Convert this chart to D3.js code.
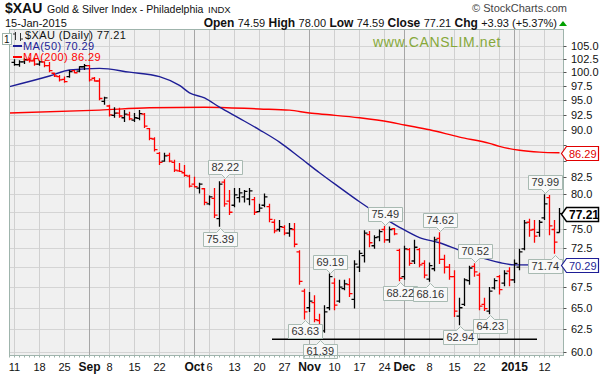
<!DOCTYPE html>
<html>
<head>
<meta charset="utf-8">
<script src="https://cdn.jsdelivr.net/npm/d3@7"></script>
<style>
  body { margin: 0; background: #fff; }
  svg { display: block; font-family: "Liberation Sans", Arial, sans-serif; }
</style>
</head>
<body>
<svg id="chart" width="604" height="377"></svg>
<script>
// ---- data ----
const symbol = "$XAU";
const title = "Gold & Silver Index - Philadelphia";
const exchange = "INDX";
const asOf = "15-Jan-2015";
const quote = [["Open", "74.59"], ["High", "78.00"], ["Low", "74.59"], ["Close", "77.21"], ["Chg", "+3.93 (+5.37%)"]];

// session before the first visible bar (moving averages start there)
const leadIn = "2014-08-08";

// date, open, high, low, close
const bars = [
  ["2014-08-11", 101.8, 102.4, 101.2, 101.4],
  ["2014-08-12", 101.4, 102.2, 101.0, 101.9],
  ["2014-08-13", 101.9, 102.6, 101.5, 102.3],
  ["2014-08-14", 102.3, 102.7, 101.8, 102.1],
  ["2014-08-15", 102.1, 102.6, 101.2, 101.5],
  ["2014-08-18", 101.5, 102.2, 101.2, 101.9],
  ["2014-08-19", 101.9, 102.0, 100.9, 101.2],
  ["2014-08-20", 101.2, 101.9, 100.0, 100.3],
  ["2014-08-21", 99.8, 99.9, 99.1, 99.3],
  ["2014-08-22", 99.2, 99.5, 98.3, 98.6],
  ["2014-08-25", 98.7, 99.2, 98.1, 98.3],
  ["2014-08-26", 99.2, 100.4, 99.0, 100.1],
  ["2014-08-27", 100.3, 100.4, 99.8, 99.9],
  ["2014-08-28", 100.2, 101.1, 100.0, 101.0],
  ["2014-08-29", 101.0, 101.5, 100.4, 101.2],
  ["2014-09-02", 101.2, 101.3, 98.3, 98.6],
  ["2014-09-03", 98.9, 99.1, 98.3, 98.4],
  ["2014-09-04", 98.4, 98.9, 95.0, 95.3],
  ["2014-09-05", 94.8, 95.6, 94.2, 95.4],
  ["2014-09-08", 94.0, 94.2, 92.2, 92.5],
  ["2014-09-09", 92.4, 93.8, 92.0, 92.8],
  ["2014-09-10", 92.8, 93.7, 92.0, 92.3],
  ["2014-09-11", 92.0, 93.3, 91.3, 92.6],
  ["2014-09-12", 92.5, 93.0, 91.6, 91.8],
  ["2014-09-15", 91.6, 92.8, 91.3, 92.0],
  ["2014-09-16", 91.9, 93.3, 91.6, 92.7],
  ["2014-09-17", 92.6, 92.8, 90.3, 90.6],
  ["2014-09-18", 90.2, 90.3, 88.3, 88.6],
  ["2014-09-19", 88.5, 88.8, 86.5, 86.8],
  ["2014-09-22", 86.2, 86.4, 84.4, 84.8],
  ["2014-09-23", 85.0, 86.3, 84.9, 85.8],
  ["2014-09-24", 85.9, 86.3, 84.8, 85.0],
  ["2014-09-25", 84.8, 85.2, 83.3, 83.6],
  ["2014-09-26", 83.5, 84.7, 83.3, 83.4],
  ["2014-09-29", 83.2, 84.4, 82.6, 82.8],
  ["2014-09-30", 82.7, 82.9, 81.0, 81.2],
  ["2014-10-01", 81.5, 82.6, 81.0, 81.1],
  ["2014-10-02", 80.9, 81.7, 80.1, 81.5],
  ["2014-10-03", 80.8, 80.9, 78.4, 78.8],
  ["2014-10-06", 78.6, 79.8, 78.4, 79.6],
  ["2014-10-07", 79.4, 80.9, 76.6, 77.0],
  ["2014-10-08", 76.5, 81.9, 75.39, 81.5],
  ["2014-10-09", 81.8, 82.22, 78.2, 78.6],
  ["2014-10-10", 79.0, 80.6, 77.0, 77.4],
  ["2014-10-13", 78.4, 80.9, 78.1, 79.9],
  ["2014-10-14", 79.5, 80.9, 78.8, 80.2],
  ["2014-10-15", 79.6, 80.6, 78.8, 80.4],
  ["2014-10-16", 79.3, 80.9, 78.4, 80.5],
  ["2014-10-17", 79.2, 79.6, 77.0, 77.4],
  ["2014-10-20", 77.5, 78.6, 77.4, 78.0],
  ["2014-10-21", 78.4, 80.1, 78.1, 79.6],
  ["2014-10-22", 78.2, 78.6, 76.0, 76.4],
  ["2014-10-23", 76.0, 76.4, 74.5, 74.8],
  ["2014-10-24", 75.0, 76.3, 74.7, 75.4],
  ["2014-10-27", 75.3, 75.6, 74.2, 74.5],
  ["2014-10-28", 74.5, 75.9, 74.0, 75.1],
  ["2014-10-29", 75.0, 75.9, 72.6, 73.0],
  ["2014-10-30", 72.0, 72.2, 67.8, 68.2],
  ["2014-10-31", 67.0, 67.3, 63.63, 64.5],
  ["2014-11-03", 65.0, 66.9, 64.5, 65.8],
  ["2014-11-04", 65.6, 66.5, 63.3, 63.6],
  ["2014-11-05", 63.5, 64.3, 61.39, 62.0],
  ["2014-11-06", 62.3, 65.3, 62.1, 64.5],
  ["2014-11-07", 65.0, 69.19, 64.7, 68.8],
  ["2014-11-10", 68.0, 68.6, 64.7, 65.3],
  ["2014-11-11", 65.8, 68.4, 65.6, 67.5],
  ["2014-11-12", 67.3, 68.4, 67.1, 67.9],
  ["2014-11-13", 67.8, 68.6, 66.3, 66.7],
  ["2014-11-14", 66.0, 70.9, 64.9, 70.4],
  ["2014-11-17", 70.0, 72.2, 69.4, 71.8],
  ["2014-11-18", 71.5, 74.9, 70.6, 74.5],
  ["2014-11-19", 74.3, 74.8, 72.6, 73.2],
  ["2014-11-20", 72.8, 74.2, 72.4, 73.9],
  ["2014-11-21", 74.0, 75.0, 73.4, 74.7],
  ["2014-11-24", 75.0, 75.49, 73.2, 73.6],
  ["2014-11-25", 73.6, 75.4, 73.2, 75.0],
  ["2014-11-26", 75.1, 75.2, 74.2, 74.4],
  ["2014-11-28", 72.2, 72.4, 68.22, 68.6],
  ["2014-12-01", 68.8, 72.8, 68.4, 72.4],
  ["2014-12-02", 72.3, 72.5, 70.2, 70.5],
  ["2014-12-03", 70.8, 73.6, 70.4, 72.6],
  ["2014-12-04", 72.3, 72.5, 70.0, 70.3],
  ["2014-12-05", 70.5, 70.9, 68.6, 69.0],
  ["2014-12-08", 68.5, 70.6, 68.16, 70.2],
  ["2014-12-09", 69.8, 74.0, 69.5, 73.6],
  ["2014-12-10", 73.8, 74.62, 70.4, 71.0],
  ["2014-12-11", 71.0, 71.6, 69.2, 70.0],
  ["2014-12-12", 70.0, 70.4, 68.4, 68.8],
  ["2014-12-15", 68.8, 69.6, 63.9, 64.6],
  ["2014-12-16", 64.0, 66.2, 62.94, 65.0],
  ["2014-12-17", 65.4, 68.6, 65.2, 68.4],
  ["2014-12-18", 68.3, 70.2, 67.8, 69.9],
  ["2014-12-19", 70.1, 70.52, 68.8, 69.4],
  ["2014-12-22", 69.0, 69.3, 64.7, 65.2],
  ["2014-12-23", 65.4, 66.2, 64.6, 64.9],
  ["2014-12-24", 64.6, 67.5, 64.23, 67.0],
  ["2014-12-26", 67.4, 68.6, 67.2, 68.3],
  ["2014-12-29", 68.8, 69.0, 66.6, 67.2],
  ["2014-12-30", 68.0, 69.6, 67.6, 69.2],
  ["2014-12-31", 69.5, 70.0, 67.6, 68.4],
  ["2015-01-02", 68.4, 71.0, 68.0, 70.5],
  ["2015-01-05", 70.0, 72.4, 69.6, 72.0],
  ["2015-01-06", 72.4, 76.3, 72.2, 75.9],
  ["2015-01-07", 76.0, 76.5, 74.0, 74.9],
  ["2015-01-08", 75.0, 76.3, 73.2, 74.1],
  ["2015-01-09", 74.6, 76.3, 74.0, 76.0],
  ["2015-01-12", 76.6, 79.99, 76.3, 78.6],
  ["2015-01-13", 79.5, 79.9, 74.2, 75.5],
  ["2015-01-14", 75.0, 76.3, 71.74, 73.28],
  ["2015-01-15", 74.59, 78.00, 74.59, 77.21]
];

// moving averages, read at roughly weekly points
const ma50 = [
  ["2014-08-08", 97.4], ["2014-08-20", 99.3], ["2014-08-26", 100.4], ["2014-09-04", 100.7],
  ["2014-09-12", 100.0], ["2014-09-22", 99.2], ["2014-09-26", 97.6], ["2014-09-30", 96.3],
  ["2014-10-03", 95.4], ["2014-10-08", 93.8], ["2014-10-14", 91.9], ["2014-10-20", 90.0],
  ["2014-10-24", 88.0], ["2014-10-30", 85.6], ["2014-11-05", 83.2], ["2014-11-11", 81.0],
  ["2014-11-17", 78.9], ["2014-11-21", 77.0], ["2014-11-28", 75.3], ["2014-12-04", 73.9],
  ["2014-12-10", 73.2], ["2014-12-16", 72.2], ["2014-12-22", 71.3], ["2014-12-29", 70.6],
  ["2015-01-02", 70.3], ["2015-01-15", 70.29]
];
const ma200 = [
  ["2014-08-08", 92.8], ["2014-09-04", 93.3], ["2014-09-18", 93.7], ["2014-10-03", 93.8],
  ["2014-10-20", 93.5], ["2014-10-28", 93.3], ["2014-11-03", 92.8], ["2014-11-07", 92.5],
  ["2014-11-17", 92.0], ["2014-11-25", 91.3], ["2014-12-01", 90.8], ["2014-12-08", 90.0],
  ["2014-12-16", 88.8], ["2014-12-24", 87.8], ["2014-12-29", 87.3], ["2015-01-05", 86.7],
  ["2015-01-09", 86.4], ["2015-01-15", 86.29]
];

// price axis ticks
const yTicks = [60, 62.5, 65, 67.5, 70, 72.5, 75, 77.5, 80, 82.5, 85, 87.5, 90, 92.5, 95, 97.5, 100, 102.5, 105];
// date axis labels: session, text, bold (month marker)
const xLabels = [
  ["2014-08-11", "11", false], ["2014-08-18", "18", false], ["2014-08-25", "25", false],
  ["2014-09-02", "Sep", true], ["2014-09-08", "8", false], ["2014-09-15", "15", false],
  ["2014-09-22", "22", false], ["2014-10-01", "Oct", true], ["2014-10-06", "6", false],
  ["2014-10-13", "13", false], ["2014-10-20", "20", false], ["2014-10-27", "27", false],
  ["2014-11-03", "Nov", true], ["2014-11-10", "10", false], ["2014-11-17", "17", false],
  ["2014-11-24", "24", false], ["2014-12-01", "Dec", true], ["2014-12-08", "8", false],
  ["2014-12-15", "15", false], ["2014-12-22", "22", false], ["2015-01-02", "2015", true],
  ["2015-01-12", "12", false]
];

// swing high / low call-outs: session, price, side
const callouts = [
  ["2014-10-09", 82.22, "above"], ["2014-10-08", 75.39, "below"],
  ["2014-10-31", 63.63, "below"], ["2014-11-05", 61.39, "below"],
  ["2014-11-07", 69.19, "above"], ["2014-11-24", 75.49, "above"],
  ["2014-11-28", 68.22, "below"], ["2014-12-08", 68.16, "below"],
  ["2014-12-10", 74.62, "above"], ["2014-12-19", 70.52, "above"],
  ["2014-12-16", 62.94, "below"], ["2014-12-24", 64.23, "below"],
  ["2015-01-12", 79.99, "above"], ["2015-01-14", 71.74, "below"]
];

// hand-drawn support line: from session, to session, level
const support = ["2014-10-23", "2015-01-08", 61.35];

// last values tagged on the price axis
const tags = [[86.29, "#e00000", false], [77.21, "#000", true], [70.29, "#1e1e96", false]];

// ---- chart ----
const parse = d3.timeParse("%Y-%m-%d");
const svg = d3.select("#chart");
const plot = {left: 9.5, right: 563.5, top: 29.5, bottom: 355.5};
const red = "#ff0000", blue = "#1e1e96";

const sessions = [leadIn, ...bars.map(b => b[0])];
const x = d3.scaleBand().domain(sessions).range([7, 562]);
const cx = d => x(d) + x.bandwidth() / 2;
const y = d3.scaleLog().domain([60, 105]).range([351.5, 45.5]);

svg.append("defs").append("clipPath").attr("id", "clip")
  .append("rect").attr("x", plot.left).attr("y", plot.top)
  .attr("width", plot.right - plot.left).attr("height", plot.bottom - plot.top);

svg.append("rect").attr("x", plot.left).attr("y", plot.top)
  .attr("width", plot.right - plot.left).attr("height", plot.bottom - plot.top)
  .attr("fill", "#f0f0f0");

// horizontal grid
svg.append("g").selectAll("line").data(yTicks).join("line")
  .attr("x1", plot.left).attr("x2", plot.right)
  .attr("y1", d => Math.round(y(d)) + 0.5).attr("y2", d => Math.round(y(d)) + 0.5)
  .attr("stroke", "#d4d4d4");

// vertical grid: first session of each week, darker at each new month
const weekStarts = sessions.filter((d, i) => i > 0 &&
  +d3.timeMonday.floor(parse(d)) !== +d3.timeMonday.floor(parse(sessions[i - 1])));
const monthStarts = sessions.filter((d, i) => i > 0 &&
  parse(d).getMonth() !== parse(sessions[i - 1]).getMonth());
svg.append("g").selectAll("line").data(weekStarts).join("line")
  .attr("x1", cx).attr("x2", cx).attr("y1", plot.top).attr("y2", plot.bottom)
  .attr("stroke", "#d0d0d0");
svg.append("g").selectAll("line").data(monthStarts).join("line")
  .attr("x1", cx).attr("x2", cx).attr("y1", plot.top).attr("y2", plot.bottom)
  .attr("stroke", "#a6a6a6");

const inner = svg.append("g").attr("clip-path", "url(#clip)");

// moving averages
const maLine = d3.line().x(d => cx(d[0])).y(d => y(d[1])).curve(d3.curveMonotoneX);
inner.append("path").datum(ma200).attr("d", maLine)
  .attr("fill", "none").attr("stroke", red).attr("stroke-width", 1.4);
inner.append("path").datum(ma50).attr("d", maLine)
  .attr("fill", "none").attr("stroke", blue).attr("stroke-width", 1.4);

// OHLC bars, black when the close is up from the prior close, red when down
inner.append("g").selectAll("path").data(bars).join("path")
  .attr("fill", "none").attr("stroke-width", 1.3)
  .attr("stroke", (d, i) => i > 0 && d[4] < bars[i - 1][4] ? red : "#000")
  .attr("d", d => {
    const c = cx(d[0]);
    return `M${c},${y(d[2])}V${y(d[3])}M${c - 3},${y(d[1])}H${c}M${c},${y(d[4])}H${c + 3}`;
  });

// support line
inner.append("line")
  .attr("x1", x(support[0])).attr("x2", x(support[1]) + x.step())
  .attr("y1", y(support[2])).attr("y2", y(support[2]))
  .attr("stroke", "#000").attr("stroke-width", 1.5);

// call-outs
const cg = svg.append("g").style("font-size", "11px");
callouts.forEach(([date, price, side]) => {
  const c = cx(date), yv = y(price);
  const label = d3.format(".2f")(price);
  const t = cg.append("text").text(label).attr("fill", "#333");
  const tw = t.node().getComputedTextLength();
  const w = Math.round(tw) + 6, h = 14;
  let x0 = Math.round(c - w / 2) + 0.5;
  x0 = Math.min(x0, plot.right - w - 1);
  const x1 = x0 + w;
  const p = Math.round(c) + 0.5;
  let path;
  if (side === "above") {
    const y1 = Math.round(yv - 5) + 0.5, y0 = y1 - h;
    path = `M${x0},${y0}H${x1}V${y1}H${p + 4}L${p},${y1 + 4}L${p - 4},${y1}H${x0}Z`;
    t.attr("y", y1 - 3.5);
  } else {
    const y0 = Math.round(yv + 5) + 0.5, y1 = y0 + h;
    path = `M${x0},${y0}H${p - 4}L${p},${y0 - 4}L${p + 4},${y0}H${x1}V${y1}H${x0}Z`;
    t.attr("y", y1 - 3.5);
  }
  t.attr("x", x0 + 3);
  cg.insert("path", "text").attr("d", path).attr("fill", "#f8f8f8").attr("stroke", "#a8bab2");
});

// frame
svg.append("rect").attr("x", plot.left).attr("y", plot.top)
  .attr("width", plot.right - plot.left).attr("height", plot.bottom - plot.top)
  .attr("fill", "none").attr("stroke", "#9fb4ac");

// daily ticks under the plot
svg.append("g").selectAll("line").data(sessions).join("line")
  .attr("x1", cx).attr("x2", cx).attr("y1", plot.bottom).attr("y2", plot.bottom + 2)
  .attr("stroke", "#9fb4ac");

// price axis (labels hidden where a last-value tag sits on top)
const ya = svg.append("g").style("font-size", "11px");
ya.selectAll("line").data(yTicks).join("line")
  .attr("x1", plot.right).attr("x2", plot.right + 3)
  .attr("y1", d => Math.round(y(d)) + 0.5).attr("y2", d => Math.round(y(d)) + 0.5)
  .attr("stroke", "#555");
ya.selectAll("text").data(yTicks.filter(t => tags.every(g => Math.abs(y(g[0]) - y(t)) > 10)))
  .join("text")
  .attr("x", 571).attr("y", d => y(d) + 4)
  .attr("fill", "#111").text(d3.format(".1f"));

// last-value tags
tags.forEach(([v, col, bold]) => {
  const yc = Math.round(y(v)) + 0.5;
  svg.append("path")
    .attr("d", `M${plot.right - 2},${yc}L${plot.right + 3},${yc - 7}H598.5V${yc + 7}H${plot.right + 3}Z`)
    .attr("fill", "#fff").attr("stroke", col).attr("stroke-width", bold ? 1.5 : 1.2);
  svg.append("text").attr("x", 569).attr("y", yc + 4).attr("fill", col)
    .style("font-size", bold ? "12px" : "11px").style("font-weight", bold ? "bold" : "normal")
    .text(d3.format(".2f")(v));
});

// date axis
svg.append("g").selectAll("text").data(xLabels).join("text")
  .attr("x", d => cx(d[0])).attr("y", 371).attr("text-anchor", "middle")
  .style("font-size", d => d[2] ? "12px" : "11px")
  .style("font-weight", d => d[2] ? "bold" : "normal")
  .attr("fill", "#111").text(d => d[1]);

// small scale box at the left edge
svg.append("rect").attr("x", 2.5).attr("y", 33.5).attr("width", 9).attr("height", 11)
  .attr("fill", "#fff").attr("stroke", "#9fb4ac");
svg.append("text").attr("x", 4).attr("y", 43).style("font-size", "10px").attr("fill", "#111").text("1");

// legend inside the plot
const lg = svg.append("g").style("font-size", "11px").style("letter-spacing", "0.4px");
lg.append("path").attr("d", "M15.5,32V40M13,34H15.5M20.5,33V41M20.5,39H23")
  .attr("stroke", "#333").attr("fill", "none");
lg.append("text").attr("x", 25).attr("y", 39).attr("fill", "#111")
  .text(`${symbol} (Daily) ${d3.format(".2f")(bars[bars.length - 1][4])}`);
[[ma50, "MA(50)", blue, 50], [ma200, "MA(200)", red, 61]].forEach(([s, name, col, yy]) => {
  lg.append("line").attr("x1", 13).attr("x2", 22).attr("y1", yy - 4).attr("y2", yy - 4)
    .attr("stroke", col).attr("stroke-width", 2);
  lg.append("text").attr("x", 23).attr("y", yy).attr("fill", col)
    .text(`${name} ${d3.format(".2f")(s[s.length - 1][1])}`);
});

// watermark
svg.append("text").attr("x", 437).attr("y", 47).attr("text-anchor", "middle")
  .style("font-size", "14px").style("letter-spacing", "0.6px").attr("fill", "#86a83a")
  .text("www.CANSLIM.net");

// header
const hd = svg.append("g");
hd.append("text").attr("x", 5).attr("y", 13).style("font-size", "14px").style("font-weight", "bold")
  .attr("fill", "#111").text(symbol);
hd.append("text").attr("x", 47).attr("y", 13).style("font-size", "10.5px").attr("fill", "#111").text(title);
hd.append("text").attr("x", 208).attr("y", 13).style("font-size", "9.5px").attr("fill", "#111").text(exchange);
hd.append("text").attr("x", 5).attr("y", 27).style("font-size", "11px").attr("fill", "#111").text(asOf);
hd.append("text").attr("x", 567).attr("y", 12).attr("text-anchor", "end")
  .style("font-size", "11px").attr("fill", "#444").text("\u00a9 StockCharts.com");
const q = hd.append("text").attr("x", 557).attr("y", 27).attr("text-anchor", "end").attr("fill", "#111");
quote.forEach(([k, v], i) => {
  q.append("tspan").style("font-weight", "bold").style("font-size", "12px").text((i ? " " : "") + k + " ");
  q.append("tspan").style("font-size", "11px").text(v);
});
hd.append("path").attr("d", "M559,26L563,21L567,26Z").attr("fill", "#00a000");
</script>
</body>
</html>
